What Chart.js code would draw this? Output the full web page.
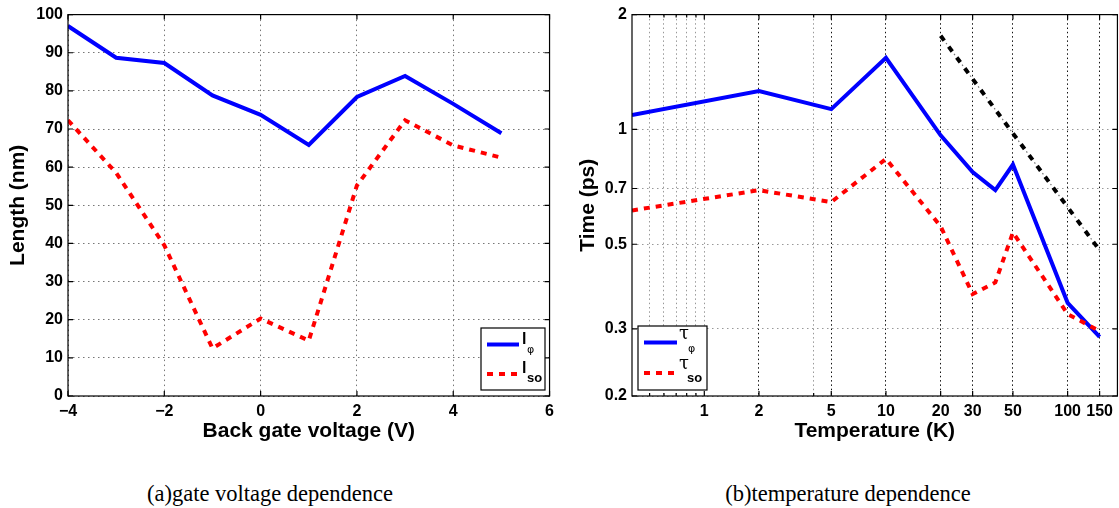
<!DOCTYPE html>
<html><head><meta charset="utf-8">
<script src="https://cdn.jsdelivr.net/npm/chart.js@4/dist/chart.umd.min.js"></script>
<style>
html,body{margin:0;padding:0;background:#fff;width:1119px;height:508px;overflow:hidden;}
#c1{position:absolute;left:0;top:0;}
#c2{position:absolute;left:560px;top:0;}
.cap{position:absolute;top:480px;font-family:'Liberation Serif',serif;font-size:22.5px;line-height:28px;white-space:nowrap;transform:translateX(-50%);color:#000;}
</style></head><body>
<canvas id="c1" width="560" height="460"></canvas>
<canvas id="c2" width="559" height="460"></canvas>
<div class="cap" style="left:270px">(a)gate voltage dependence</div>
<div class="cap" style="left:848px">(b)temperature dependence</div>
<script>
// ---- data (a) ----
const gateVoltage = [-4, -3, -2, -1, 0, 1, 2, 3, 4, 5];
const lPhi = [97.0, 88.7, 87.3, 78.8, 73.7, 65.8, 78.4, 83.9, 76.6, 68.9];
const lSo  = [72.3, 58.5, 39.5, 12.5, 20.3, 14.5, 55.2, 72.3, 65.7, 62.5];
const leftXTicks = [-4, -2, 0, 2, 4, 6];
const leftYTicks = [0, 10, 20, 30, 40, 50, 60, 70, 80, 90, 100];
// ---- data (b) ----
const temperature = [0.4, 2, 5, 10, 20, 30, 40, 50, 100, 150];
const tauPhi = [1.09, 1.26, 1.13, 1.54, 0.965, 0.773, 0.693, 0.809, 0.351, 0.286];
const tauSo  = [0.613, 0.693, 0.645, 0.837, 0.557, 0.370, 0.397, 0.537, 0.328, 0.296];
const fitT   = [20, 150];
const fitTau = [1.76, 0.482];
const rightXLabelTicks = [1, 2, 5, 10, 20, 30, 50, 100, 150];
const rightXMinorTicks = [0.5, 0.6, 0.7, 0.8, 0.9, 4];
const rightXDarkGrid = [2, 5, 10, 20, 30, 50, 100, 150];
const rightYTicks = [0.2, 0.3, 0.5, 0.7, 1, 2];

Chart.defaults.font.family = "'Liberation Sans', Arial, sans-serif";
Chart.defaults.color = '#000';

const pts = (xs, ys) => xs.map((x, i) => ({x: x, y: ys[i]}));

const framePlugin = {
  id: 'frame',
  afterDraw(chart, args, o) {
    const {ctx, chartArea: a, scales} = chart;
    ctx.save();
    ctx.strokeStyle = '#000';
    ctx.lineWidth = 1.2;
    ctx.setLineDash([]);
    ctx.beginPath();
    for (const t of scales.x.ticks) {
      const px = scales.x.getPixelForValue(t.value);
      if (px < a.left - 0.5 || px > a.right + 0.5) continue;
      const len = (o.minorX && o.minorX.includes(t.value)) ? 3 : 5;
      ctx.moveTo(px, a.bottom); ctx.lineTo(px, a.bottom - len);
      ctx.moveTo(px, a.top); ctx.lineTo(px, a.top + len);
    }
    for (const t of scales.y.ticks) {
      const py = scales.y.getPixelForValue(t.value);
      ctx.moveTo(a.left, py); ctx.lineTo(a.left + 5, py);
      ctx.moveTo(a.right, py); ctx.lineTo(a.right - 5, py);
    }
    ctx.stroke();
    ctx.strokeRect(a.left, a.top, a.right - a.left, a.bottom - a.top);
    ctx.restore();
  }
};

const legendPlugin = {
  id: 'mlegend',
  afterDraw(chart, args, o) {
    const ctx = chart.ctx;
    ctx.save();
    const b = o.box;
    ctx.fillStyle = '#fff';
    ctx.fillRect(b[0], b[1], b[2], b[3]);
    ctx.strokeStyle = '#000'; ctx.lineWidth = 1.2;
    ctx.strokeRect(b[0], b[1], b[2], b[3]);
    for (const it of o.items) {
      const ds = chart.data.datasets[it.ds];
      ctx.strokeStyle = ds.borderColor;
      ctx.lineWidth = ds.borderWidth;
      ctx.setLineDash(ds.borderDash || []);
      ctx.beginPath(); ctx.moveTo(it.x0, it.y); ctx.lineTo(it.x1, it.y); ctx.stroke();
      ctx.setLineDash([]);
      ctx.fillStyle = '#000';
      ctx.textAlign = 'left'; ctx.textBaseline = 'alphabetic';
      ctx.font = it.mainFont; ctx.fillText(it.main, it.mx, it.my);
      ctx.font = it.subFont; ctx.fillText(it.sub, it.sx, it.sy);
    }
    ctx.restore();
  }
};

const tickFont = {size: 16, weight: 'bold'};
const titleFont = {size: 21, weight: 'bold'};

// ---------- chart (a) ----------
new Chart(document.getElementById('c1'), {
  type: 'line',
  data: {datasets: [
    {data: pts(gateVoltage, lPhi), borderColor: '#0000ff', borderWidth: 4, pointRadius: 0, tension: 0, order: 1},
    {data: pts(gateVoltage, lSo), borderColor: '#ff0000', borderWidth: 4, borderDash: [6, 6], pointRadius: 0, tension: 0, order: 0}
  ]},
  options: {
    responsive: false, animation: false, events: [],
    layout: {padding: {top: 13, right: 8, bottom: 14, left: 0}},
    plugins: {
      legend: {display: false}, tooltip: {enabled: false},
      frame: {},
      mlegend: {
        box: [481, 328, 64, 62],
        items: [
          {ds: 0, x0: 487, x1: 519, y: 344.5, main: 'l', mainFont: "bold 16px 'Liberation Sans'", mx: 522, my: 343.5, sub: 'φ', subFont: "11px 'DejaVu Sans'", sx: 527, sy: 353},
          {ds: 1, x0: 487, x1: 519, y: 374, main: 'l', mainFont: "bold 16px 'Liberation Sans'", mx: 522, my: 373, sub: 'so', subFont: "bold 13px 'Liberation Sans'", sx: 527, sy: 382}
        ]
      }
    },
    scales: {
      x: {
        type: 'linear', min: -4, max: 6,
        afterBuildTicks: s => { s.ticks = leftXTicks.map(v => ({value: v})); },
        afterFit: s => { s.height = 50; },
        ticks: {font: tickFont, color: '#000', padding: 6, maxRotation: 0, autoSkip: false,
          callback: v => v < 0 ? '\u2212' + Math.abs(v) : String(v)},
        grid: {color: '#777', lineWidth: 1, drawTicks: false},
        border: {display: false, dash: [1.5, 3.5]},
        title: {display: true, text: 'Back gate voltage (V)', font: titleFont, color: '#000', padding: {top: 0, bottom: 2}}
      },
      y: {
        type: 'linear', min: 0, max: 100,
        afterBuildTicks: s => { s.ticks = leftYTicks.map(v => ({value: v})); },
        afterFit: s => { s.width = 68; },
        ticks: {font: tickFont, color: '#000', padding: 5, autoSkip: false},
        grid: {color: '#777', lineWidth: 1, drawTicks: false},
        border: {display: false, dash: [1.5, 3.5]},
        title: {display: true, text: 'Length (nm)', font: titleFont, color: '#000', padding: {top: 6, bottom: 0}}
      }
    }
  },
  plugins: [framePlugin, legendPlugin]
});

// ---------- chart (b) ----------
new Chart(document.getElementById('c2'), {
  type: 'line',
  data: {datasets: [
    {data: pts(temperature, tauPhi), borderColor: '#0000ff', borderWidth: 4, pointRadius: 0, tension: 0, order: 1},
    {data: pts(temperature, tauSo), borderColor: '#ff0000', borderWidth: 4, borderDash: [6, 6], pointRadius: 0, tension: 0, order: 0},
    {data: pts(fitT, fitTau), borderColor: '#000000', borderWidth: 4, borderDash: [6, 7.5], pointRadius: 0, tension: 0, order: 2},
    {data: pts(fitT, fitTau), borderColor: '#777777', borderWidth: 1.2, borderDash: [1.5, 12], borderDashOffset: 4.5, pointRadius: 0, tension: 0, order: 3}
  ]},
  options: {
    responsive: false, animation: false, events: [],
    layout: {padding: {top: 9, right: 1, bottom: 14, left: 0}},
    plugins: {
      legend: {display: false}, tooltip: {enabled: false},
      frame: {minorX: rightXMinorTicks},
      mlegend: {
        box: [78, 326, 69, 64],
        items: [
          {ds: 0, x0: 84, x1: 117, y: 342.5, main: 'τ', mainFont: "18px 'DejaVu Serif'", mx: 119, my: 339, sub: 'φ', subFont: "11px 'DejaVu Sans'", sx: 128, sy: 352},
          {ds: 1, x0: 84, x1: 117, y: 373, main: 'τ', mainFont: "18px 'DejaVu Serif'", mx: 119, my: 369, sub: 'so', subFont: "bold 13px 'Liberation Sans'", sx: 127, sy: 382}
        ]
      }
    },
    scales: {
      x: {
        type: 'logarithmic', min: 0.4, max: 188,
        afterBuildTicks: s => {
          s.ticks = rightXMinorTicks.concat(rightXLabelTicks).sort((p, q) => p - q).map(v => ({value: v}));
        },
        afterFit: s => { s.height = 50; },
        ticks: {font: tickFont, color: '#000', padding: 6, maxRotation: 0, minRotation: 0, autoSkip: false,
          callback: v => rightXLabelTicks.includes(v) ? String(v) : ''},
        grid: {lineWidth: 1, drawTicks: false,
          color: c => (c.tick && rightXDarkGrid.includes(c.tick.value)) ? '#111' : '#999'},
        border: {display: false, dash: [1.5, 2.8]},
        title: {display: true, text: 'Temperature (K)', font: titleFont, color: '#000', padding: {top: 0, bottom: 2}}
      },
      y: {
        type: 'logarithmic', min: 0.2, max: 2,
        afterBuildTicks: s => { s.ticks = rightYTicks.map(v => ({value: v})); },
        afterFit: s => { s.width = 72; },
        ticks: {font: tickFont, color: '#000', padding: 5, autoSkip: false, callback: v => String(v)},
        grid: {color: '#999', lineWidth: 1, drawTicks: false},
        border: {display: false, dash: [1.5, 3.5]},
        title: {display: true, text: 'Time (ps)', font: titleFont, color: '#000', padding: {top: 16, bottom: 0}}
      }
    }
  },
  plugins: [framePlugin, legendPlugin]
});
</script>
</body></html>
